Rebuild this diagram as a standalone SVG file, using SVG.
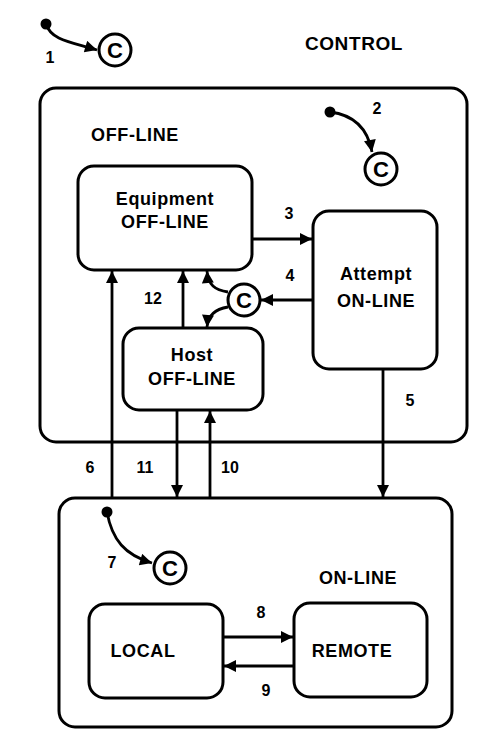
<svg xmlns="http://www.w3.org/2000/svg" width="500" height="742" viewBox="0 0 500 742">
<style>
.box{fill:none;stroke:#000;stroke-width:3}
.ln{fill:none;stroke:#000;stroke-width:2.8}
.t{font-family:"Liberation Sans",Arial,sans-serif;font-weight:bold;font-size:18px;letter-spacing:0.6px;fill:#000;text-anchor:middle}
.n{font-family:"Liberation Sans",Arial,sans-serif;font-weight:bold;font-size:16px;fill:#000;text-anchor:middle}
.c{fill:#fff;stroke:#000;stroke-width:3}
.ct{font-family:"Liberation Sans",Arial,sans-serif;font-weight:bold;font-size:22px;fill:#000;text-anchor:middle}
</style>
<defs>
<marker id="a" viewBox="0 0 10 10" refX="10" refY="5" markerWidth="15" markerHeight="12" markerUnits="userSpaceOnUse" orient="auto">
<path d="M0,0 L10,5 L0,10 Z" fill="#000"/>
</marker>
</defs>
<rect width="500" height="742" fill="#fff"/>
<text class="t" x="354" y="50" style="font-size:19px">CONTROL</text>

<g id="offline">
<rect class="box" x="40" y="88" width="427" height="354" rx="16"/>
<text class="t" x="135" y="141">OFF-LINE</text>
</g>
<g id="online">
<rect class="box" x="59" y="498" width="393" height="229" rx="16"/>
<text class="t" x="358" y="584">ON-LINE</text>
</g>
<g id="equipment">
<rect class="box" x="78" y="166" width="174" height="104" rx="16"/>
<text class="t" x="165" y="205">Equipment</text>
<text class="t" x="165" y="228">OFF-LINE</text>
</g>
<g id="attempt">
<rect class="box" x="313" y="211" width="124" height="158" rx="16"/>
<text class="t" x="376" y="280">Attempt</text>
<text class="t" x="376" y="307">ON-LINE</text>
</g>
<g id="host">
<rect class="box" x="123" y="328" width="140" height="82" rx="16"/>
<text class="t" x="192" y="361">Host</text>
<text class="t" x="192" y="385">OFF-LINE</text>
</g>
<g id="local">
<rect class="box" x="89" y="604" width="134" height="94" rx="16"/>
<text class="t" x="143" y="657">LOCAL</text>
</g>
<g id="remote">
<rect class="box" x="294" y="603" width="133" height="94" rx="16"/>
<text class="t" x="352" y="657">REMOTE</text>
</g>

<g id="connectors">
<circle cx="46" cy="24" r="5.5"/>
<path class="ln" d="M46,24 C51,40 70,42 97,50" marker-end="url(#a)"/>
<circle cx="330" cy="112" r="5.5"/>
<path class="ln" d="M330,112 C355,115 368,130 372,152" marker-end="url(#a)"/>
<circle cx="107" cy="512" r="5.5"/>
<path class="ln" d="M107,512 C112,540 125,555 152,563" marker-end="url(#a)"/>
<path class="ln" d="M252,239 H312" marker-end="url(#a)"/>
<path class="ln" d="M313,300 H261" marker-end="url(#a)"/>
<path class="ln" d="M228,292 C215,290 208,285 207,271" marker-end="url(#a)"/>
<path class="ln" d="M228,307 C215,309 208,315 207,327" marker-end="url(#a)"/>
<path class="ln" d="M183,328 V271" marker-end="url(#a)"/>
<path class="ln" d="M112,498 V271" marker-end="url(#a)"/>
<path class="ln" d="M177,410 V497" marker-end="url(#a)"/>
<path class="ln" d="M210,498 V411" marker-end="url(#a)"/>
<path class="ln" d="M383,369 V497" marker-end="url(#a)"/>
<path class="ln" d="M223,637 H293" marker-end="url(#a)"/>
<path class="ln" d="M294,666 H224" marker-end="url(#a)"/>
</g>

<g id="c1"><circle class="c" cx="115" cy="50" r="16"/><text class="ct" x="115" y="58">C</text></g>
<g id="c2"><circle class="c" cx="381" cy="169" r="16"/><text class="ct" x="381" y="177">C</text></g>
<g id="c3"><circle class="c" cx="244" cy="300" r="16"/><text class="ct" x="244" y="308">C</text></g>
<g id="c4"><circle class="c" cx="170" cy="568" r="16"/><text class="ct" x="170" y="576">C</text></g>

<g id="labels">
<text class="n" x="50" y="63">1</text>
<text class="n" x="377" y="114">2</text>
<text class="n" x="289" y="219">3</text>
<text class="n" x="290" y="281">4</text>
<text class="n" x="410" y="406">5</text>
<text class="n" x="90" y="473">6</text>
<text class="n" x="112" y="568">7</text>
<text class="n" x="261" y="618">8</text>
<text class="n" x="266" y="696">9</text>
<text class="n" x="230" y="473">10</text>
<text class="n" x="145" y="473">11</text>
<text class="n" x="153" y="304">12</text>
</g>
</svg>
